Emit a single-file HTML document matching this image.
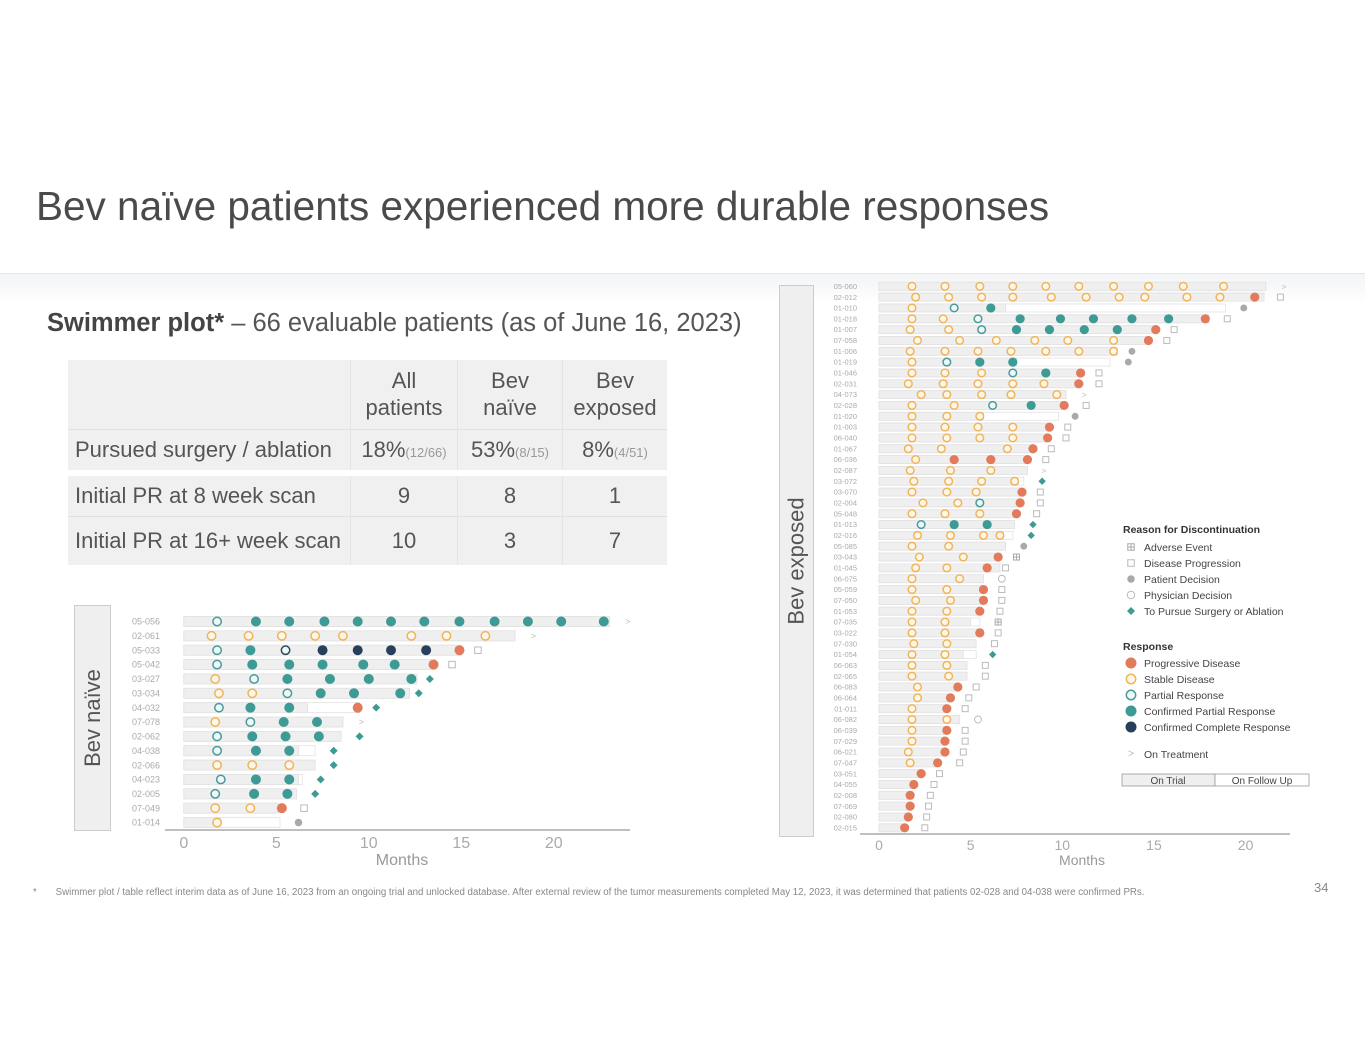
<!DOCTYPE html>
<html><head><meta charset="utf-8">
<style>
body{margin:0;width:1365px;height:1055px;background:#fff;position:relative;overflow:hidden;font-family:"Liberation Sans",sans-serif;color:#555}
.abs{position:absolute}
#title{left:36px;top:183px;font-size:40.5px;color:#4a4a4a;white-space:nowrap}
#band{left:0;top:273px;width:1365px;height:30px;border-top:1px solid #e3e6ea;background:linear-gradient(#f3f4f6,#fff)}
#sub{left:47px;top:309px;font-size:25.5px;color:#555;white-space:nowrap}
#sub b{color:#444}
table{position:absolute;left:68px;top:360px;border-collapse:collapse;font-size:22px;color:#555}
td{background:#f0f0f0;padding:0 7px;border-left:1px solid #e4e4e4;text-align:center;white-space:nowrap}
td.l{text-align:left;border-left:none}
small{font-size:13px;color:#999}
.side{background:#efefef;border:1px solid #ccc;display:flex;align-items:center;justify-content:center}
.side span{transform:rotate(-90deg);white-space:nowrap;font-size:22px;color:#555}
</style></head><body>
<div class="abs" id="title">Bev naïve patients experienced more durable responses</div>
<div class="abs" id="band"></div>
<div class="abs" id="sub"><b>Swimmer plot*</b> – 66 evaluable patients (as of June 16, 2023)</div>
<table>
<tr style="height:69px"><td class="l" style="width:268px"></td><td style="width:92px;line-height:27px">All<br>patients</td><td style="width:90px;line-height:27px">Bev<br>naïve</td><td style="width:90px;line-height:27px">Bev<br>exposed</td></tr>
<tr style="height:41px;border-top:1px solid #e0e0e0"><td class="l">Pursued surgery / ablation</td><td>18%<small>(12/66)</small></td><td>53%<small>(8/15)</small></td><td>8%<small>(4/51)</small></td></tr>
<tr style="height:6px"><td colspan="4" style="background:#fff;border:none;padding:0"></td></tr>
<tr style="height:40px"><td class="l">Initial PR at 8 week scan</td><td>9</td><td>8</td><td>1</td></tr>
<tr style="height:49px;border-top:1px solid #e0e0e0"><td class="l">Initial PR at 16+ week scan</td><td>10</td><td>3</td><td>7</td></tr>
</table>
<div class="abs side" style="left:74px;top:605px;width:35px;height:224px"><span>Bev naïve</span></div>
<div class="abs side" style="left:779px;top:285px;width:33px;height:550px"><span>Bev exposed</span></div>
<svg class="abs" style="left:0;top:0" width="1365" height="1055" id="svg"></svg>
<div class="abs" style="left:33px;top:887px;font-size:9.7px;color:#888;white-space:nowrap">*&nbsp;&nbsp;&nbsp;&nbsp;&nbsp;&nbsp;&nbsp;Swimmer plot / table reflect interim data as of June 16, 2023 from an ongoing trial and unlocked database. After external review of the tumor measurements completed May 12, 2023, it was determined that patients 02-028 and 04-038 were confirmed PRs.</div>
<div class="abs" style="left:1314px;top:880px;font-size:13px;color:#888">34</div>
<script>
// ---- Bev naive data ----
const naiveIds=["05-056","02-061","05-033","05-042","03-027","03-034","04-032","07-078","02-062","04-038","02-066","04-023","02-005","07-049","01-014"];
const naiveTrial=[23.0,17.9,15.0,13.6,12.6,12.2,6.7,8.6,8.5,6.2,7.1,6.2,6.1,5.1,2.0];
const naiveFollow=[23.0,17.9,15.0,13.6,12.6,12.2,9.5,8.6,8.5,7.1,7.1,6.4,6.1,5.1,5.2];
const naiveMarks=[
[[1.8,"PR"],[3.9,"CPR"],[5.7,"CPR"],[7.6,"CPR"],[9.4,"CPR"],[11.2,"CPR"],[13.0,"CPR"],[14.9,"CPR"],[16.8,"CPR"],[18.6,"CPR"],[20.4,"CPR"],[22.7,"CPR"]],
[[1.5,"SD"],[3.5,"SD"],[5.3,"SD"],[7.1,"SD"],[8.6,"SD"],[12.3,"SD"],[14.2,"SD"],[16.3,"SD"]],
[[1.8,"PR"],[3.6,"CPR"],[5.5,"PR2"],[7.5,"CR"],[9.4,"CR"],[11.2,"CR"],[13.1,"CR"],[14.9,"PD"]],
[[1.8,"PR"],[3.7,"CPR"],[5.7,"CPR"],[7.5,"CPR"],[9.7,"CPR"],[11.4,"CPR"],[13.5,"PD"]],
[[1.7,"SD"],[3.8,"PR"],[5.6,"CPR"],[7.9,"CPR"],[10.0,"CPR"],[12.3,"CPR"]],
[[1.9,"SD"],[3.7,"SD"],[5.6,"PR"],[7.4,"CPR"],[9.2,"CPR"],[11.7,"CPR"]],
[[1.9,"PR"],[3.6,"CPR"],[5.7,"CPR"],[9.4,"PD"]],
[[1.7,"SD"],[3.6,"PR"],[5.4,"CPR"],[7.2,"CPR"]],
[[1.8,"PR"],[3.7,"CPR"],[5.5,"CPR"],[7.3,"CPR"]],
[[1.8,"PR"],[3.9,"CPR"],[5.7,"CPR"]],
[[1.8,"SD"],[3.7,"SD"],[5.7,"SD"]],
[[2.0,"PR"],[3.9,"CPR"],[5.7,"CPR"]],
[[1.7,"PR"],[3.8,"CPR"],[5.6,"CPR"]],
[[1.7,"SD"],[3.6,"SD"],[5.3,"PD"]],
[[1.8,"SD"]]];
const naiveEnd=[[24.0,"OT"],[18.9,"OT"],[15.9,"DP"],[14.5,"DP"],[13.3,"SX"],[12.7,"SX"],[10.4,"SX"],[9.6,"OT"],[9.5,"SX"],[8.1,"SX"],[8.1,"SX"],[7.4,"SX"],[7.1,"SX"],[6.5,"DP"],[6.2,"PT"]];
const naiveTicks=[0,5,10,15,20];
// ---- Bev exposed data ----
const expIds=["05-060","02-012","01-010","01-018","01-007","07-058","01-006","01-019","01-046","02-031","04-073","02-028","01-020","01-003","06-040","01-067","06-036","02-087","03-072","03-070","02-004","05-048","01-013","02-016","05-085","03-043","01-045","06-075","05-059","07-050","01-053","07-035","03-022","07-030","01-054","06-063","02-065","06-083","06-064","01-011","06-082","06-039","07-029","06-021","07-047","03-051","04-055","02-008","07-069","02-080","02-015"];
const expTrial=[21.1,21.0,6.9,18.0,15.0,14.7,13.0,7.5,11.0,10.9,10.2,10.1,5.7,9.3,9.2,8.4,8.1,8.1,7.6,7.8,7.7,7.5,7.4,6.8,6.9,6.6,6.6,5.7,5.7,5.7,5.5,5.0,5.5,5.3,4.6,4.8,4.8,4.3,3.9,3.7,4.4,3.7,3.6,3.6,3.2,2.3,1.9,1.7,1.7,1.6,1.4];
const expFollow=[21.1,21.0,18.9,18.0,15.0,14.7,13.0,12.6,11.0,10.9,10.2,10.1,9.8,9.3,9.2,8.4,8.1,8.1,7.9,7.8,7.7,7.5,7.4,7.3,6.9,6.6,6.6,5.7,5.7,5.7,5.5,5.5,5.5,5.3,5.3,4.8,4.8,4.3,3.9,3.7,4.4,3.7,3.6,3.6,3.2,2.3,1.9,1.7,1.7,1.6,1.4];
const expMarks=[
[[1.8,"SD"],[3.6,"SD"],[5.5,"SD"],[7.3,"SD"],[9.1,"SD"],[10.9,"SD"],[12.8,"SD"],[14.7,"SD"],[16.6,"SD"],[18.8,"SD"]],
[[2.0,"SD"],[3.8,"SD"],[5.6,"SD"],[7.3,"SD"],[9.4,"SD"],[11.3,"SD"],[13.1,"SD"],[14.5,"SD"],[16.8,"SD"],[18.6,"SD"],[20.5,"PD"]],
[[1.8,"SD"],[4.1,"PR"],[6.1,"CPR"]],
[[1.8,"SD"],[3.5,"SD"],[5.4,"PR"],[7.7,"CPR"],[9.9,"CPR"],[11.7,"CPR"],[13.8,"CPR"],[15.8,"CPR"],[17.8,"PD"]],
[[1.7,"SD"],[3.8,"SD"],[5.6,"PR"],[7.5,"CPR"],[9.3,"CPR"],[11.2,"CPR"],[13.0,"CPR"],[15.1,"PD"]],
[[2.1,"SD"],[4.4,"SD"],[6.4,"SD"],[8.5,"SD"],[10.3,"SD"],[12.8,"SD"],[14.7,"PD"]],
[[1.7,"SD"],[3.6,"SD"],[5.4,"SD"],[7.2,"SD"],[9.1,"SD"],[10.9,"SD"],[12.8,"SD"]],
[[1.8,"SD"],[3.7,"PR"],[5.5,"CPR"],[7.3,"CPR"]],
[[1.8,"SD"],[3.6,"SD"],[5.6,"SD"],[7.3,"PR"],[9.1,"CPR"],[11.0,"PD"]],
[[1.6,"SD"],[3.5,"SD"],[5.4,"SD"],[7.3,"SD"],[9.0,"SD"],[10.9,"PD"]],
[[2.3,"SD"],[3.7,"SD"],[5.6,"SD"],[7.2,"SD"],[9.7,"SD"]],
[[1.8,"SD"],[4.1,"SD"],[6.2,"PR"],[8.3,"CPR"],[10.1,"PD"]],
[[1.8,"SD"],[3.7,"SD"],[5.5,"SD"]],
[[1.8,"SD"],[3.6,"SD"],[5.4,"SD"],[7.3,"SD"],[9.3,"PD"]],
[[1.8,"SD"],[3.7,"SD"],[5.5,"SD"],[7.3,"SD"],[9.2,"PD"]],
[[1.6,"SD"],[3.4,"SD"],[7.0,"SD"],[8.4,"PD"]],
[[2.0,"SD"],[4.1,"PD"],[6.1,"PD"],[8.1,"PD"]],
[[1.7,"SD"],[3.9,"SD"],[6.1,"SD"]],
[[1.9,"SD"],[3.8,"SD"],[5.6,"SD"],[7.4,"SD"]],
[[1.8,"SD"],[3.7,"SD"],[5.3,"SD"],[7.8,"PD"]],
[[2.4,"SD"],[4.3,"SD"],[5.5,"PR"],[7.7,"PD"]],
[[1.8,"SD"],[3.6,"SD"],[5.5,"SD"],[7.5,"PD"]],
[[2.3,"PR"],[4.1,"CPR"],[5.9,"CPR"]],
[[2.1,"SD"],[3.9,"SD"],[5.7,"SD"],[6.6,"SD"]],
[[1.8,"SD"],[3.8,"SD"]],
[[2.2,"SD"],[4.6,"SD"],[6.5,"PD"]],
[[2.0,"SD"],[3.7,"SD"],[5.9,"PD"]],
[[1.8,"SD"],[4.4,"SD"]],
[[1.8,"SD"],[3.7,"SD"],[5.7,"PD"]],
[[2.0,"SD"],[3.9,"SD"],[5.7,"PD"]],
[[1.8,"SD"],[3.7,"SD"],[5.5,"PD"]],
[[1.8,"SD"],[3.6,"SD"]],
[[1.8,"SD"],[3.6,"SD"],[5.5,"PD"]],
[[1.9,"SD"],[3.7,"SD"]],
[[1.8,"SD"],[3.6,"SD"]],
[[1.8,"SD"],[3.7,"SD"]],
[[1.8,"SD"],[3.8,"SD"]],
[[2.1,"SD"],[4.3,"PD"]],
[[2.1,"SD"],[3.9,"PD"]],
[[1.8,"SD"],[3.7,"PD"]],
[[1.8,"SD"],[3.7,"SD"]],
[[1.8,"SD"],[3.7,"PD"]],
[[1.8,"SD"],[3.6,"PD"]],
[[1.6,"SD"],[3.6,"PD"]],
[[1.7,"SD"],[3.2,"PD"]],
[[2.3,"PD"]],[[1.9,"PD"]],[[1.7,"PD"]],[[1.7,"PD"]],[[1.6,"PD"]],[[1.4,"PD"]]];
const expEnd=[[22.1,"OT"],[21.9,"DP"],[19.9,"PT"],[19.0,"DP"],[16.1,"DP"],[15.7,"DP"],[13.8,"PT"],[13.6,"PT"],[12.0,"DP"],[12.0,"DP"],[11.2,"OT"],[11.3,"DP"],[10.7,"PT"],[10.3,"DP"],[10.2,"DP"],[9.4,"DP"],[9.1,"DP"],[9.0,"OT"],[8.9,"SX"],[8.8,"DP"],[8.8,"DP"],[8.6,"DP"],[8.4,"SX"],[8.3,"SX"],[7.9,"PT"],[7.5,"AE"],[6.9,"DP"],[6.7,"PH"],[6.7,"DP"],[6.7,"DP"],[6.6,"DP"],[6.5,"AE"],[6.5,"DP"],[6.3,"DP"],[6.2,"SX"],[5.8,"DP"],[5.8,"DP"],[5.3,"DP"],[4.9,"DP"],[4.7,"DP"],[5.4,"PH"],[4.7,"DP"],[4.7,"DP"],[4.6,"DP"],[4.4,"DP"],[3.3,"DP"],[3.0,"DP"],[2.8,"DP"],[2.7,"DP"],[2.6,"DP"],[2.5,"DP"]];
const expTicks=[0,5,10,15,20];

const NS="http://www.w3.org/2000/svg";
const svg=document.getElementById("svg");
function mk(tag,attrs,parent){const e=document.createElementNS(NS,tag);for(const k in attrs)e.setAttribute(k,attrs[k]);(parent||svg).appendChild(e);return e;}
const COL={PD:"#e27b5c",SD:"#f0b45a",PR:"#4a9a9a",CPR:"#3e9a94",CR:"#26405a",PR2:"#2e4a5a",G:"#a9a9a9"};
function marker(g,code,x,y,r,inTrial){
  let e;
  if(code==="SD"||code==="PR"||code==="PR2"){e=mk("circle",{cx:x,cy:y,r:r-0.8,fill:code==="SD"?"#fff8ea":"#eef8f8",stroke:COL[code],"stroke-width":1.5},g);}
  else if(code==="PD"||code==="CPR"||code==="CR"){e=mk("circle",{cx:x,cy:y,r:r,fill:COL[code]},g);}
  else if(code==="PT"){e=mk("circle",{cx:x,cy:y,r:r*0.75,fill:COL.G},g);}
  else if(code==="PH"){e=mk("circle",{cx:x,cy:y,r:r*0.75,fill:"#fff",stroke:"#bbb","stroke-width":1},g);}
  else if(code==="DP"){const s=r*1.3;e=mk("rect",{x:x-s/2,y:y-s/2,width:s,height:s,fill:"#fff",stroke:"#bbb","stroke-width":1},g);}
  else if(code==="AE"){const s=r*1.3;e=mk("g",{},g);mk("rect",{x:x-s/2,y:y-s/2,width:s,height:s,fill:"#fff",stroke:"#aaa","stroke-width":1},e);mk("path",{d:`M${x-s/2} ${y}H${x+s/2}M${x} ${y-s/2}V${y+s/2}`,stroke:"#aaa","stroke-width":1},e);}
  else if(code==="SX"){const s=r*0.8;e=mk("path",{d:`M${x} ${y-s}L${x+s} ${y}L${x} ${y+s}L${x-s} ${y}Z`,fill:"#3e9a94"},g);}
  else if(code==="OT"){e=mk("text",{x:x,y:y+3,"font-size":r*1.8,fill:"#bbb","text-anchor":"middle"},g);e.textContent=">";}
  return e;
}
function chart(cfg){
  const g=mk("g",{});
  
  
  const X=m=>cfg.x0+m*cfg.px, Y=i=>cfg.y0+i*cfg.dy;
  cfg.ids.forEach((id,i)=>{
    const y=Y(i);
    const lab=mk("text",{x:cfg.labX,y:y+cfg.fs*0.35,"font-size":cfg.fs,fill:"#aaa","text-anchor":"end"},g);
    lab.textContent=id;
    
    
    const fb=mk("rect",{x:X(0),y:y-cfg.bh/2,width:X(cfg.follow[i])-X(0),height:cfg.bh,fill:"#fff",stroke:"#e2e2e2","stroke-width":0.8},g);
    
    
    const tb=mk("rect",{x:X(0),y:y-cfg.bh/2,width:X(cfg.trial[i])-X(0),height:cfg.bh,fill:"#efefef",stroke:"#e2e2e2","stroke-width":0.8},g);
    
    
    cfg.marks[i].forEach(m=>{const e=marker(g,m[1],X(m[0]),y,cfg.r);
      
      });
    const en=marker(g,cfg.end[i][1],X(cfg.end[i][0]),y,cfg.r);
    
    
  });
  const ax=mk("line",{x1:cfg.axL,x2:cfg.axR,y1:cfg.axY,y2:cfg.axY,stroke:"#999","stroke-width":1.2},g);
  
  
  cfg.ticks.forEach(t=>{const e=mk("text",{x:X(t),y:cfg.axY+cfg.tfs+2,"font-size":cfg.tfs,fill:"#aaa","text-anchor":"middle"},g);e.textContent=t;
    
    });
  const t=mk("text",{x:cfg.mX,y:cfg.axY+cfg.tfs*2+3,"font-size":cfg.tfs,fill:"#999","text-anchor":"middle"},g);t.textContent="Months";
  
  
}
chart({name:"bev-naive-chart",ids:naiveIds,trial:naiveTrial,follow:naiveFollow,marks:naiveMarks,end:naiveEnd,ticks:naiveTicks,
  x0:183.8,px:18.5,y0:621.5,dy:14.36,bh:10,r:5,fs:9,labX:160,axL:165,axR:630,axY:830,tfs:16,mX:402});
chart({name:"bev-exposed-chart",ids:expIds,trial:expTrial,follow:expFollow,marks:expMarks,end:expEnd,ticks:expTicks,
  x0:879,px:18.33,y0:286.3,dy:10.83,bh:8,r:4.6,fs:7.5,labX:857,axL:860,axR:1290,axY:834,tfs:14,mX:1082});
// legend
const lg=mk("g",{});


function lt(x,y,s,bold){const e=mk("text",{x:x,y:y,"font-size":10.5,fill:bold?"#333":"#444","font-weight":bold?"bold":"normal"},lg);e.textContent=s;return e;}
lt(1123,533,"Reason for Discontinuation",true);
[["AE","Adverse Event"],["DP","Disease Progression"],["PT","Patient Decision"],["PH","Physician Decision"],["SX","To Pursue Surgery or Ablation"]].forEach((d,i)=>{
  const y=547+i*16; marker(lg,d[0],1131,y,5); const e=lt(1144,y+4,d[1]);
  
  });
lt(1123,650,"Response",true);
[["PD","Progressive Disease"],["SD","Stable Disease"],["PR","Partial Response"],["CPR","Confirmed Partial Response"],["CR","Confirmed Complete Response"]].forEach((d,i)=>{
  const y=663+i*16; marker(lg,d[0],1131,y,5.5); const e=lt(1144,y+4,d[1]);
  
  });
marker(lg,"OT",1131,754,6); lt(1144,758,"On Treatment");
mk("rect",{x:1122,y:774,width:93,height:12,fill:"#efefef",stroke:"#999","stroke-width":0.8},lg);
mk("rect",{x:1215,y:774,width:94,height:12,fill:"#fff",stroke:"#999","stroke-width":0.8},lg);
const a=mk("text",{x:1168,y:784,"font-size":10,fill:"#444","text-anchor":"middle"},lg);a.textContent="On Trial";
const b=mk("text",{x:1262,y:784,"font-size":10,fill:"#444","text-anchor":"middle"},lg);b.textContent="On Follow Up";
</script>
</body></html>
